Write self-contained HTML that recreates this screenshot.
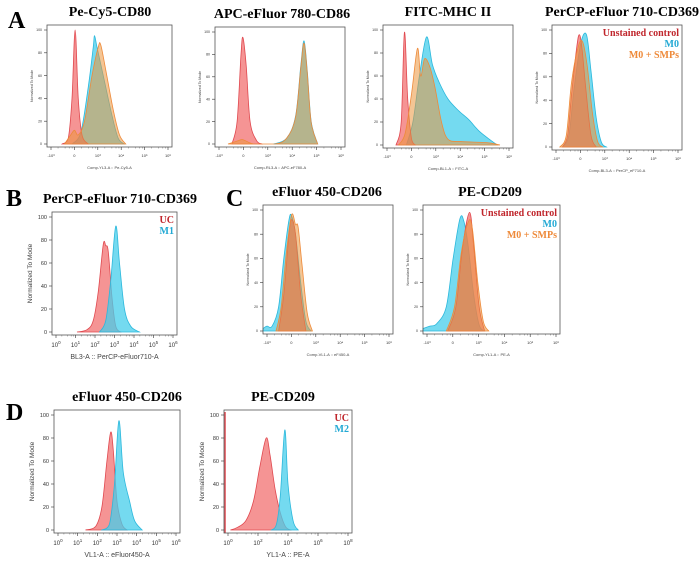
<!DOCTYPE html>
<html><head><meta charset="utf-8">
<style>
html,body{margin:0;padding:0;background:#fff;}
svg{display:block;}
text{font-family:"Liberation Sans",sans-serif;}
.ttl{font-family:"Liberation Serif",serif;font-weight:bold;font-size:14px;fill:#000;}
.let{font-family:"Liberation Serif",serif;font-weight:bold;font-size:24px;fill:#000;}
.leg{font-family:"Liberation Serif",serif;font-weight:bold;font-size:10px;}
</style></head>
<body>
<svg id="fig" width="700" height="565" viewBox="0 0 700 565">
<text class="let" x="8" y="28">A</text>
<text class="let" x="6" y="206">B</text>
<text class="let" x="226" y="206">C</text>
<text class="let" x="6" y="420">D</text>
</svg>
<script>
// Series data: [x fraction of axis, % of mode]
const a1Red=[[.12,0],[.17,5],[.20,40],[.225,100],[.25,40],[.28,8],[.33,0]];
const a1Blue=[[.2,0],[.27,10],[.33,50],[.37,85],[.38,95],[.40,85],[.45,60],[.52,25],[.57,5],[.62,0]];
const a1Orange=[[.14,0],[.19,8],[.22,12],[.25,8],[.30,20],[.36,60],[.41,85],[.43,87],[.47,65],[.53,30],[.58,8],[.63,0]];
const a2Red=[[.13,0],[.17,20],[.2,80],[.215,95],[.24,70],[.27,20],[.32,3],[.36,0]];
const a2Blue=[[.45,0],[.55,5],[.62,25],[.66,70],[.685,92],[.71,65],[.74,20],[.79,0]];
const a2Orange=[[.1,0],[.18,3],[.21,4],[.25,2],[.3,0],[.46,0],[.55,5],[.62,24],[.66,68],[.685,90],[.71,63],[.74,19],[.79,0]];
const a3Red=[[.1,0],[.14,20],[.165,98],[.19,40],[.22,5],[.25,0]];
const a3Orange=[[.12,0],[.17,10],[.22,45],[.265,84],[.29,60],[.32,75],[.36,68],[.4,50],[.45,20],[.5,5],[.6,3],[.8,2],[.9,0]];
const a3Blue=[[.18,0],[.23,20],[.28,60],[.335,94],[.38,70],[.43,55],[.5,40],[.58,30],[.66,22],[.74,12],[.83,4],[.88,0]];
const a4Red=[[.08,0],[.12,10],[.15,45],[.19,85],[.21,96],[.23,85],[.26,50],[.3,10],[.34,0]];
const a4Blue=[[.08,0],[.13,10],[.17,50],[.22,88],[.265,96],[.3,65],[.34,25],[.38,4],[.42,0]];
const a4Orange=[[.06,0],[.11,10],[.15,55],[.2,85],[.235,90],[.27,70],[.31,30],[.35,5],[.39,0]];
const bRed=[[.2,0],[.28,2],[.33,10],[.37,35],[.41,76],[.43,75],[.45,70],[.48,30],[.51,5],[.55,0]];
const bBlue=[[.38,0],[.43,10],[.47,45],[.51,92],[.54,60],[.58,20],[.63,5],[.7,0]];
const c1Red=[[.12,0],[.16,30],[.2,80],[.22,92],[.25,80],[.29,30],[.33,0]];
const c1Blue=[[0,2],[.03,4],[.07,4],[.12,20],[.16,60],[.2,92],[.22,95],[.25,80],[.29,40],[.33,8],[.37,0]];
const c1Orange=[[.1,0],[.14,20],[.18,65],[.22,96],[.25,88],[.27,86],[.3,55],[.34,15],[.38,0]];
const c2Red=[[.18,0],[.24,20],[.29,70],[.34,98],[.37,70],[.41,20],[.45,0]];
const c2Blue=[[0,2],[.05,4],[.1,6],[.17,20],[.22,60],[.27,93],[.3,90],[.33,70],[.37,30],[.41,5],[.45,0]];
const c2Orange=[[.17,0],[.23,20],[.28,65],[.33,90],[.36,85],[.4,40],[.44,8],[.48,0]];
const d1Red=[[.25,0],[.33,3],[.38,20],[.42,60],[.45,85],[.47,70],[.5,25],[.54,5],[.58,0]];
const d1Blue=[[.38,0],[.44,5],[.48,40],[.515,95],[.55,50],[.6,25],[.64,8],[.7,0]];
const d2Red=[[.05,0],[.1,2],[.17,8],[.23,25],[.28,55],[.33,80],[.36,65],[.4,35],[.44,15],[.48,3],[.52,0]];
const d2Blue=[[.37,0],[.41,5],[.44,30],[.475,87],[.5,40],[.54,8],[.58,0]];
const yTicks=[0,20,40,60,80,100];
const logTicks=["0","1","2","3","4","5","6"];
const logTicksD2=["0","2","4","6","8"];

const RED={fill:"rgba(240,90,90,0.65)",stroke:"#e0484f"};
const BLUE={fill:"rgba(70,205,235,0.75)",stroke:"#2bb8dc"};
const ORANGE={fill:"rgba(235,150,60,0.55)",stroke:"#ee8a3a"};

const panels=[
 {id:"a1",x:47,y:25,w:125,h:122,title:"Pe-Cy5-CD80",tx:110,small:true,xt:"Comp-YL3-A :: Pe-Cy5-A",series:[[a1Blue,BLUE],[a1Red,RED],[a1Orange,ORANGE]]},
 {id:"a2",x:215,y:27,w:130,h:120,title:"APC-eFluor 780-CD86",tx:282,small:true,xt:"Comp-RL3-A :: APC-eF780-A",series:[[a2Red,RED],[a2Blue,BLUE],[a2Orange,ORANGE]]},
 {id:"a3",x:383,y:25,w:130,h:123,title:"FITC-MHC II",tx:448,small:true,xt:"Comp-BL1-A :: FITC-A",series:[[a3Blue,BLUE],[a3Red,RED],[a3Orange,ORANGE]]},
 {id:"a4",x:552,y:25,w:130,h:125,title:"PerCP-eFluor 710-CD369",tx:622,small:true,xt:"Comp-BL3-A :: PerCP_eF710-A",legend:3,series:[[a4Blue,BLUE],[a4Red,RED],[a4Orange,ORANGE]]},
 {id:"b",x:52,y:212,w:125,h:123,title:"PerCP-eFluor 710-CD369",tx:120,small:false,xt:"BL3-A :: PerCP-eFluor710-A",legend:"UC/M1",ticks:logTicks,series:[[bRed,RED],[bBlue,BLUE]]},
 {id:"c1",x:263,y:205,w:130,h:129,title:"eFluor 450-CD206",tx:327,small:true,xt:"Comp-VL1-A :: eF450-A",series:[[c1Blue,BLUE],[c1Red,RED],[c1Orange,ORANGE]]},
 {id:"c2",x:423,y:205,w:137,h:129,title:"PE-CD209",tx:490,small:true,xt:"Comp-YL1-A :: PE-A",legend:3,series:[[c2Blue,BLUE],[c2Red,RED],[c2Orange,ORANGE]]},
 {id:"d1",x:54,y:410,w:126,h:123,title:"eFluor 450-CD206",tx:127,small:false,xt:"VL1-A :: eFluor450-A",ticks:logTicks,series:[[d1Red,RED],[d1Blue,BLUE]]},
 {id:"d2",x:224,y:410,w:128,h:123,title:"PE-CD209",tx:283,small:false,xt:"YL1-A :: PE-A",legend:"UC/M2",ticks:logTicksD2,redEdge:true,series:[[d2Red,RED],[d2Blue,BLUE]]}
];
const svg=document.getElementById("fig");
const NS="http://www.w3.org/2000/svg";
function mk(tag,attrs,parent){const e=document.createElementNS(NS,tag);for(const k in attrs)e.setAttribute(k,attrs[k]);(parent||svg).appendChild(e);return e;}
function pathFor(pts,sx,sy){
 const P=pts.map(p=>[sx(p[0]),sy(p[1])]);
 let d="M"+P[0][0]+","+sy(0)+" L"+P[0][0]+","+P[0][1];
 for(let i=0;i<P.length-1;i++){
  const p0=P[i-1]||P[i],p1=P[i],p2=P[i+1],p3=P[i+2]||p2;
  const c1=[p1[0]+(p2[0]-p0[0])/6,p1[1]+(p2[1]-p0[1])/6];
  const c2=[p2[0]-(p3[0]-p1[0])/6,p2[1]-(p3[1]-p1[1])/6];
  d+=" C"+c1[0]+","+Math.min(c1[1],sy(0))+" "+c2[0]+","+Math.min(c2[1],sy(0))+" "+p2[0]+","+p2[1];
 }
 return d+" L"+P[P.length-1][0]+","+sy(0)+"Z";
}
panels.forEach(p=>{
 const g=mk("g",{});
 
 
 const sx=v=>p.x+v*p.w, sy=v=>p.y+p.h-3-v/100*(p.h-8);
 const t=mk("text",{class:"ttl",x:p.tx,y:p.y-9,"text-anchor":"middle"},g);
 t.textContent=p.title;
 
 
 p.series.forEach(s=>{
  const e=mk("path",{d:pathFor(s[0],sx,sy),fill:s[1].fill,stroke:s[1].stroke,"stroke-width":0.8},g);
  
  
 });
 if(p.redEdge) mk("line",{x1:p.x+1,y1:p.y+2,x2:p.x+1,y2:p.y+p.h,stroke:"#e0484f","stroke-width":1.5},g);
 const box=mk("rect",{x:p.x,y:p.y,width:p.w,height:p.h,fill:"none",stroke:"#555","stroke-width":0.8},g);
 
 
 const fs=p.small?3.5:5.5;
 yTicks.forEach(v=>{
  mk("line",{x1:p.x-3,x2:p.x,y1:sy(v),y2:sy(v),stroke:"#333","stroke-width":0.6},g);
  const tl=mk("text",{x:p.x-5,y:sy(v)+fs/3,"font-size":fs,"text-anchor":"end",fill:"#333"},g);
  tl.textContent=v;
 });
 const yl=mk("text",{x:0,y:0,"font-size":p.small?3.5:6.5,"text-anchor":"middle",fill:"#444",transform:"translate("+(p.x-(p.small?14:20))+","+(p.y+p.h/2)+") rotate(-90)"},g);
 yl.textContent="Normalized To Mode";
 
 
 const tk=p.ticks||["-10\u00b3","0","10\u00b3","10\u2074","10\u2075","10\u2076"];
 tk.forEach((lab,i)=>{
  const xx=p.x+4+i*(p.w-8)/(tk.length-1);
  mk("line",{x1:xx,x2:xx,y1:p.y+p.h,y2:p.y+p.h+3,stroke:"#333","stroke-width":0.6},g);
  for(let k=1;k<5&&i<tk.length-1;k++){const mx=xx+(p.w-8)/(tk.length-1)*Math.log10(k*2);mk("line",{x1:mx,x2:mx,y1:p.y+p.h,y2:p.y+p.h+1.5,stroke:"#555","stroke-width":0.4},g);}
  const tl=mk("text",{x:xx,y:p.y+p.h+(p.small?10:12),"font-size":p.small?4:6,"text-anchor":"middle",fill:"#333"},g);
  tl.textContent=p.ticks?"10":lab;
  if(p.ticks){const sup=mk("tspan",{dy:-3,"font-size":4.5},tl);sup.textContent=lab;}
 });
 const xl=mk("text",{x:p.x+p.w/2,y:p.y+p.h+(p.small?22:24),"font-size":p.small?4:7,"text-anchor":"middle",fill:"#444"},g);
 xl.textContent=p.xt;
 
 
 let leg=[];
 if(p.legend===3) leg=[["Unstained control","#c0262c"],["M0","#23a9d4"],["M0 + SMPs","#ee8a3a"]];
 else if(p.legend==="UC/M1") leg=[["UC","#c0262c"],["M1","#23a9d4"]];
 else if(p.legend==="UC/M2") leg=[["UC","#c0262c"],["M2","#23a9d4"]];
 leg.forEach((l,i)=>{
  const e=mk("text",{class:"leg",x:p.x+p.w-3,y:p.y+11+i*11,"text-anchor":"end",fill:l[1]},g);
  e.textContent=l[0];
  
  
 });
});
</script>
</body></html>
